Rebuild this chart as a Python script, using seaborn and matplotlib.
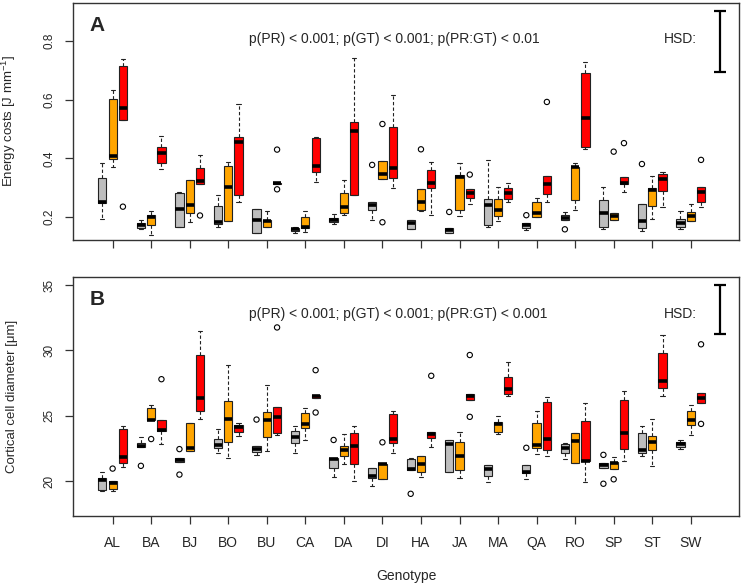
import numpy as np
import pandas as pd
import matplotlib
matplotlib.use("Agg")
import matplotlib.pyplot as plt
import seaborn as sns

genotypes = ["AL", "BA", "BJ", "BO", "BU", "CA", "DA", "DI",
             "HA", "JA", "MA", "QA", "RO", "SP", "ST", "SW"]
treatments = ["T1", "T2", "T3"]
box_colors = ["#BEBEBE", "#FFA500", "#FF0000"]

# five-number summaries (whisker low, q1, median, q3, whisker high) per genotype
energy_grey = [(0.194, 0.248, 0.251, 0.332, 0.386), (0.160, 0.162, 0.172, 0.180, 0.189),
               (0.168, 0.168, 0.227, 0.284, 0.287), (0.168, 0.177, 0.185, 0.237, 0.275),
               (0.146, 0.146, 0.192, 0.228, 0.228), (0.148, 0.154, 0.159, 0.164, 0.168),
               (0.177, 0.185, 0.192, 0.198, 0.212), (0.189, 0.223, 0.240, 0.251, 0.251),
               (0.159, 0.159, 0.182, 0.191, 0.191), (0.146, 0.146, 0.157, 0.165, 0.165),
               (0.168, 0.173, 0.241, 0.263, 0.394), (0.155, 0.164, 0.172, 0.180, 0.180),
               (0.191, 0.191, 0.199, 0.207, 0.217), (0.159, 0.168, 0.214, 0.257, 0.302),
               (0.154, 0.164, 0.186, 0.246, 0.246), (0.161, 0.168, 0.182, 0.193, 0.220)]
energy_orange = [(0.372, 0.397, 0.408, 0.601, 0.633), (0.139, 0.173, 0.200, 0.206, 0.220),
                 (0.184, 0.214, 0.240, 0.325, 0.325), (0.188, 0.188, 0.304, 0.374, 0.389),
                 (0.168, 0.168, 0.188, 0.191, 0.220), (0.150, 0.162, 0.168, 0.200, 0.220),
                 (0.207, 0.216, 0.234, 0.282, 0.327), (0.330, 0.330, 0.347, 0.392, 0.392),
                 (0.220, 0.225, 0.251, 0.295, 0.295), (0.205, 0.224, 0.338, 0.342, 0.383),
                 (0.188, 0.205, 0.225, 0.261, 0.304), (0.200, 0.200, 0.214, 0.251, 0.266),
                 (0.225, 0.257, 0.370, 0.372, 0.383), (0.191, 0.191, 0.205, 0.214, 0.214),
                 (0.194, 0.237, 0.294, 0.301, 0.340), (0.188, 0.188, 0.205, 0.219, 0.244)]
energy_red = [(0.531, 0.531, 0.570, 0.715, 0.737), (0.365, 0.385, 0.417, 0.440, 0.476),
              (0.312, 0.312, 0.323, 0.366, 0.412), (0.252, 0.277, 0.457, 0.472, 0.585),
              (0.313, 0.313, 0.315, 0.318, 0.318), (0.321, 0.355, 0.375, 0.471, 0.473),
              (0.276, 0.276, 0.494, 0.525, 0.743), (0.298, 0.335, 0.369, 0.506, 0.615),
              (0.208, 0.298, 0.318, 0.361, 0.387), (0.245, 0.267, 0.282, 0.295, 0.295),
              (0.252, 0.261, 0.284, 0.301, 0.318), (0.252, 0.278, 0.312, 0.340, 0.340),
              (0.431, 0.440, 0.539, 0.690, 0.729), (0.285, 0.312, 0.315, 0.338, 0.338),
              (0.234, 0.289, 0.330, 0.348, 0.354), (0.234, 0.253, 0.287, 0.304, 0.304)]
energy_outliers = [("AL", "T3", 0.236), ("BJ", "T3", 0.206), ("BU", "T3", 0.430),
                   ("BU", "T3", 0.295), ("DI", "T1", 0.378), ("DI", "T2", 0.517),
                   ("DI", "T2", 0.183), ("HA", "T2", 0.431), ("JA", "T1", 0.218),
                   ("JA", "T3", 0.345), ("QA", "T1", 0.207), ("QA", "T3", 0.592),
                   ("RO", "T1", 0.159), ("SP", "T2", 0.423), ("SP", "T3", 0.452),
                   ("ST", "T1", 0.381), ("SW", "T3", 0.395)]

cell_grey = [(19.20, 19.28, 20.10, 20.26, 20.69), (22.57, 22.57, 22.70, 22.93, 23.37),
             (21.47, 21.47, 21.59, 21.77, 21.77), (22.16, 22.55, 22.72, 23.19, 24.01),
             (21.98, 22.24, 22.42, 22.70, 22.70), (22.16, 22.88, 23.39, 23.83, 24.19),
             (20.31, 21.00, 21.72, 21.77, 21.77), (19.61, 20.26, 20.41, 21.00, 21.00),
             (20.82, 20.82, 20.90, 21.67, 21.77), (20.67, 20.67, 22.83, 23.14, 23.16),
             (19.92, 20.39, 20.90, 21.21, 21.21), (20.15, 20.59, 20.69, 21.23, 21.23),
             (21.70, 22.11, 22.49, 22.80, 22.90), (21.03, 21.03, 21.21, 21.34, 21.34),
             (21.93, 22.11, 22.34, 23.68, 24.24), (22.44, 22.62, 22.85, 23.01, 23.16)]
cell_orange = [(19.20, 19.41, 19.87, 20.00, 20.00), (24.63, 24.63, 24.68, 25.58, 25.84),
               (22.26, 22.26, 22.52, 24.42, 24.47), (21.75, 22.96, 24.78, 26.12, 28.89),
               (22.26, 23.39, 24.70, 25.27, 27.33), (23.16, 24.06, 24.37, 25.22, 25.58),
               (21.31, 21.93, 22.37, 22.67, 23.62), (20.15, 20.15, 21.28, 21.31, 21.31),
               (20.31, 20.69, 21.29, 21.88, 21.93), (20.26, 20.82, 21.90, 23.01, 23.73),
               (23.57, 23.73, 24.37, 24.50, 24.99), (22.06, 22.52, 22.75, 24.47, 25.35),
               (21.41, 21.41, 23.08, 23.70, 23.70), (20.95, 20.95, 21.36, 21.47, 21.85),
               (21.13, 22.34, 22.96, 23.44, 24.76), (23.55, 24.29, 24.70, 25.37, 25.81)]
cell_red = [(21.08, 21.39, 21.80, 24.01, 24.24), (22.83, 23.83, 23.93, 24.65, 24.65),
            (24.78, 25.37, 26.32, 29.61, 31.47), (23.47, 23.78, 24.14, 24.32, 24.47),
            (23.55, 23.65, 24.91, 25.66, 25.66), (26.32, 26.32, 26.48, 26.61, 26.61),
            (20.00, 21.31, 22.65, 23.65, 24.22), (22.16, 22.88, 23.24, 25.14, 25.32),
            (22.62, 23.32, 23.60, 23.78, 23.78), (26.17, 26.17, 26.48, 26.68, 26.68),
            (26.48, 26.66, 27.04, 27.97, 29.13), (21.90, 22.34, 23.19, 26.07, 26.45),
            (19.92, 21.52, 21.54, 24.58, 25.99), (21.54, 22.44, 23.70, 26.17, 26.92),
            (26.53, 27.10, 27.63, 29.82, 31.16), (25.96, 25.96, 26.38, 26.76, 26.76)]
cell_outliers = [("AL", "T2", 20.95), ("BA", "T1", 21.16), ("BA", "T2", 23.21),
                 ("BA", "T3", 27.79), ("BJ", "T1", 22.44), ("BJ", "T1", 20.49),
                 ("BU", "T1", 24.70), ("BU", "T3", 31.75), ("CA", "T3", 28.48),
                 ("CA", "T3", 25.24), ("DA", "T1", 23.14), ("DI", "T2", 22.96),
                 ("HA", "T1", 19.02), ("HA", "T3", 28.05), ("JA", "T3", 29.64),
                 ("JA", "T3", 24.91), ("QA", "T1", 22.54), ("SP", "T1", 22.00),
                 ("SP", "T1", 19.79), ("SP", "T2", 20.13), ("SW", "T3", 30.46),
                 ("SW", "T3", 24.37)]

hsd_energy = 0.207
hsd_cell = 3.75
ptext_energy = "p(PR) < 0.001; p(GT) < 0.001; p(PR:GT) < 0.01"
ptext_cell = "p(PR) < 0.001; p(GT) < 0.001; p(PR:GT) < 0.001"


def to_long(*series):
    rows = []
    for t, stats in zip(treatments, series):
        for g, five in zip(genotypes, stats):
            for v in five:
                rows.append((g, t, v))
    return pd.DataFrame(rows, columns=["genotype", "treatment", "value"])


sns.set_style("ticks")
plt.rcParams["font.family"] = ["Liberation Sans", "DejaVu Sans"]
plt.rcParams["mathtext.fontset"] = "custom"
plt.rcParams["mathtext.rm"] = "Liberation Sans"
plt.rcParams["mathtext.default"] = "regular"

fig = plt.figure(figsize=(7.42, 5.85), dpi=100)
ax_a = fig.add_axes([0.0988, 0.5897, 0.8976, 0.4060])
ax_b = fig.add_axes([0.0988, 0.1188, 0.8976, 0.4077])


def draw_panel(ax, boxes, outliers, letter, ptext, ylabel, ylim, yticks, hsd, hsd_top):
    sns.boxplot(data=boxes, x="genotype", y="value", hue="treatment",
                order=genotypes, hue_order=treatments, palette=box_colors,
                saturation=1, width=0.8, gap=0.2, whis=(0, 100), showfliers=False,
                linecolor="#222222", linewidth=0.8, legend=False, ax=ax,
                medianprops=dict(color="black", linewidth=2.6),
                whiskerprops=dict(linestyle=(0, (3, 2))))
    n = len(ax.collections)
    out = pd.DataFrame(outliers, columns=["genotype", "treatment", "value"])
    sns.stripplot(data=out, x="genotype", y="value", hue="treatment",
                  order=genotypes, hue_order=treatments, palette=box_colors,
                  dodge=True, jitter=False, size=3.8, legend=False, ax=ax, zorder=3)
    for c in ax.collections[n:]:
        c.set_facecolor("none")
        c.set_edgecolor("black")
        c.set_linewidth(0.8)

    ax.errorbar(15.75, hsd_top - hsd / 2, yerr=hsd / 2, color="black",
                capsize=4.5, linewidth=1.6, capthick=1.6)

    ax.set_xlim(-1.02, 16.26)
    ax.set_ylim(*ylim)
    ax.set_yticks(yticks)
    for s in ax.spines.values():
        s.set_visible(True)
        s.set_linewidth(1.0)
        s.set_color("#333333")
    ax.tick_params(axis="both", length=6, width=0.9, color="#333333")
    ax.tick_params(axis="y", labelsize=8.5, pad=7)
    ax.tick_params(axis="x", labelsize=10, pad=9)
    plt.setp(ax.get_yticklabels(), rotation=90, va="center")
    ax.set_ylabel(ylabel, fontsize=9.5)
    ax.yaxis.set_label_coords(-0.083, 0.5)
    ax.set_xlabel("")

    ax.text(0.024, 0.905, letter, transform=ax.transAxes, fontsize=15,
            fontweight="bold", va="center", ha="left")
    ax.text(0.264, 0.845, ptext, transform=ax.transAxes, fontsize=10,
            va="center", ha="left")
    ax.text(0.911, 0.845, "HSD:", transform=ax.transAxes, fontsize=10,
            va="center", ha="center")


draw_panel(ax_a, to_long(energy_grey, energy_orange, energy_red), energy_outliers,
           "A", ptext_energy, "Energy costs [J mm$^{-1}$]",
           (0.1226, 0.930), [0.2, 0.4, 0.6, 0.8], hsd_energy, 0.901)
ax_a.tick_params(axis="x", labelbottom=False)

draw_panel(ax_b, to_long(cell_grey, cell_orange, cell_red), cell_outliers,
           "B", ptext_cell, "Cortical cell diameter [μm]",
           (17.36, 35.61), [20, 25, 30, 35], hsd_cell, 35.0)
ax_b.set_xlabel("Genotype", fontsize=10)
ax_b.xaxis.set_label_coords(0.5, -0.225)

fig.savefig("out.png", dpi=100)
